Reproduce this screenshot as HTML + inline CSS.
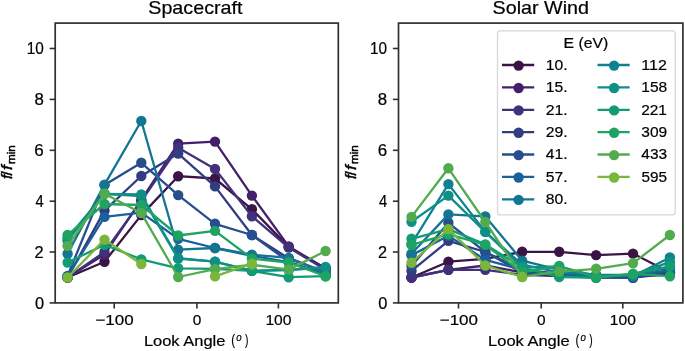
<!DOCTYPE html>
<html><head><meta charset="utf-8"><style>html,body{margin:0;padding:0;background:#fff;width:685px;height:351px;overflow:hidden}svg{display:block;will-change:transform}</style></head>
<body>
<svg width="685" height="351" viewBox="0 0 685 351">
<style>
.sp{fill:none;stroke:#303030;stroke-width:1.7}
.tk{stroke:#303030;stroke-width:1.6}
text{font-family:"Liberation Sans",sans-serif;fill:#000;stroke:#000;stroke-width:0.2px}
</style>
<rect width="685" height="351" fill="#fff"/>
<g><polyline points="67.6,277.5 104.5,261.7 141.3,215.1 178.2,176.2 215.0,178.5 251.9,209.3 288.7,246.9 325.6,268.6" fill="none" stroke="#3b1446" stroke-width="2.3" stroke-linejoin="round"/>
<ellipse cx="67.6" cy="277.5" rx="5.2" ry="5.2" fill="#3b1446"/>
<ellipse cx="104.5" cy="261.7" rx="5.2" ry="5.2" fill="#3b1446"/>
<ellipse cx="141.3" cy="215.1" rx="5.2" ry="5.2" fill="#3b1446"/>
<ellipse cx="178.2" cy="176.2" rx="5.2" ry="5.2" fill="#3b1446"/>
<ellipse cx="215.0" cy="178.5" rx="5.2" ry="5.2" fill="#3b1446"/>
<ellipse cx="251.9" cy="209.3" rx="5.2" ry="5.2" fill="#3b1446"/>
<ellipse cx="288.7" cy="246.9" rx="5.2" ry="5.2" fill="#3b1446"/>
<ellipse cx="325.6" cy="268.6" rx="5.2" ry="5.2" fill="#3b1446"/>
<polyline points="67.6,277.5 104.5,254.6 141.3,199.9 178.2,143.7 215.0,141.6 251.9,195.6 288.7,246.4 325.6,268.6" fill="none" stroke="#45206a" stroke-width="2.3" stroke-linejoin="round"/>
<ellipse cx="67.6" cy="277.5" rx="5.2" ry="5.2" fill="#45206a"/>
<ellipse cx="104.5" cy="254.6" rx="5.2" ry="5.2" fill="#45206a"/>
<ellipse cx="141.3" cy="199.9" rx="5.2" ry="5.2" fill="#45206a"/>
<ellipse cx="178.2" cy="143.7" rx="5.2" ry="5.2" fill="#45206a"/>
<ellipse cx="215.0" cy="141.6" rx="5.2" ry="5.2" fill="#45206a"/>
<ellipse cx="251.9" cy="195.6" rx="5.2" ry="5.2" fill="#45206a"/>
<ellipse cx="288.7" cy="246.4" rx="5.2" ry="5.2" fill="#45206a"/>
<ellipse cx="325.6" cy="268.6" rx="5.2" ry="5.2" fill="#45206a"/>
<polyline points="67.6,277.5 104.5,252.0 141.3,201.2 178.2,147.7 215.0,168.9 251.9,216.2 288.7,247.5 325.6,269.8" fill="none" stroke="#41307a" stroke-width="2.3" stroke-linejoin="round"/>
<ellipse cx="67.6" cy="277.5" rx="5.2" ry="5.2" fill="#41307a"/>
<ellipse cx="104.5" cy="252.0" rx="5.2" ry="5.2" fill="#41307a"/>
<ellipse cx="141.3" cy="201.2" rx="5.2" ry="5.2" fill="#41307a"/>
<ellipse cx="178.2" cy="147.7" rx="5.2" ry="5.2" fill="#41307a"/>
<ellipse cx="215.0" cy="168.9" rx="5.2" ry="5.2" fill="#41307a"/>
<ellipse cx="251.9" cy="216.2" rx="5.2" ry="5.2" fill="#41307a"/>
<ellipse cx="288.7" cy="247.5" rx="5.2" ry="5.2" fill="#41307a"/>
<ellipse cx="325.6" cy="269.8" rx="5.2" ry="5.2" fill="#41307a"/>
<polyline points="67.6,277.5 104.5,210.6 141.3,176.0 178.2,153.6 215.0,186.4 251.9,235.0 288.7,258.4 325.6,272.4" fill="none" stroke="#323c80" stroke-width="2.3" stroke-linejoin="round"/>
<ellipse cx="67.6" cy="277.5" rx="5.2" ry="5.2" fill="#323c80"/>
<ellipse cx="104.5" cy="210.6" rx="5.2" ry="5.2" fill="#323c80"/>
<ellipse cx="141.3" cy="176.0" rx="5.2" ry="5.2" fill="#323c80"/>
<ellipse cx="178.2" cy="153.6" rx="5.2" ry="5.2" fill="#323c80"/>
<ellipse cx="215.0" cy="186.4" rx="5.2" ry="5.2" fill="#323c80"/>
<ellipse cx="251.9" cy="235.0" rx="5.2" ry="5.2" fill="#323c80"/>
<ellipse cx="288.7" cy="258.4" rx="5.2" ry="5.2" fill="#323c80"/>
<ellipse cx="325.6" cy="272.4" rx="5.2" ry="5.2" fill="#323c80"/>
<polyline points="67.6,275.9 104.5,185.1 141.3,162.8 178.2,195.1 215.0,223.8 251.9,235.0 288.7,261.7 325.6,274.9" fill="none" stroke="#274e8d" stroke-width="2.3" stroke-linejoin="round"/>
<ellipse cx="67.6" cy="275.9" rx="5.2" ry="5.2" fill="#274e8d"/>
<ellipse cx="104.5" cy="185.1" rx="5.2" ry="5.2" fill="#274e8d"/>
<ellipse cx="141.3" cy="162.8" rx="5.2" ry="5.2" fill="#274e8d"/>
<ellipse cx="178.2" cy="195.1" rx="5.2" ry="5.2" fill="#274e8d"/>
<ellipse cx="215.0" cy="223.8" rx="5.2" ry="5.2" fill="#274e8d"/>
<ellipse cx="251.9" cy="235.0" rx="5.2" ry="5.2" fill="#274e8d"/>
<ellipse cx="288.7" cy="261.7" rx="5.2" ry="5.2" fill="#274e8d"/>
<ellipse cx="325.6" cy="274.9" rx="5.2" ry="5.2" fill="#274e8d"/>
<polyline points="67.6,276.4 104.5,216.9 141.3,212.6 178.2,238.8 215.0,248.0 251.9,255.8 288.7,262.2 325.6,274.9" fill="none" stroke="#18619a" stroke-width="2.3" stroke-linejoin="round"/>
<ellipse cx="67.6" cy="276.4" rx="5.2" ry="5.2" fill="#18619a"/>
<ellipse cx="104.5" cy="216.9" rx="5.2" ry="5.2" fill="#18619a"/>
<ellipse cx="141.3" cy="212.6" rx="5.2" ry="5.2" fill="#18619a"/>
<ellipse cx="178.2" cy="238.8" rx="5.2" ry="5.2" fill="#18619a"/>
<ellipse cx="215.0" cy="248.0" rx="5.2" ry="5.2" fill="#18619a"/>
<ellipse cx="251.9" cy="255.8" rx="5.2" ry="5.2" fill="#18619a"/>
<ellipse cx="288.7" cy="262.2" rx="5.2" ry="5.2" fill="#18619a"/>
<ellipse cx="325.6" cy="274.9" rx="5.2" ry="5.2" fill="#18619a"/>
<polyline points="67.6,253.8 104.5,184.6 141.3,121.0 178.2,249.7 215.0,248.0 251.9,254.6 288.7,257.9 325.6,272.4" fill="none" stroke="#147592" stroke-width="2.3" stroke-linejoin="round"/>
<ellipse cx="67.6" cy="253.8" rx="5.2" ry="5.2" fill="#147592"/>
<ellipse cx="104.5" cy="184.6" rx="5.2" ry="5.2" fill="#147592"/>
<ellipse cx="141.3" cy="121.0" rx="5.2" ry="5.2" fill="#147592"/>
<ellipse cx="178.2" cy="249.7" rx="5.2" ry="5.2" fill="#147592"/>
<ellipse cx="215.0" cy="248.0" rx="5.2" ry="5.2" fill="#147592"/>
<ellipse cx="251.9" cy="254.6" rx="5.2" ry="5.2" fill="#147592"/>
<ellipse cx="288.7" cy="257.9" rx="5.2" ry="5.2" fill="#147592"/>
<ellipse cx="325.6" cy="272.4" rx="5.2" ry="5.2" fill="#147592"/>
<polyline points="67.6,240.6 104.5,193.8 141.3,196.1 178.2,258.6 215.0,261.7 251.9,270.9 288.7,269.8 325.6,267.8" fill="none" stroke="#0e8290" stroke-width="2.3" stroke-linejoin="round"/>
<ellipse cx="67.6" cy="240.6" rx="5.2" ry="5.2" fill="#0e8290"/>
<ellipse cx="104.5" cy="193.8" rx="5.2" ry="5.2" fill="#0e8290"/>
<ellipse cx="141.3" cy="196.1" rx="5.2" ry="5.2" fill="#0e8290"/>
<ellipse cx="178.2" cy="258.6" rx="5.2" ry="5.2" fill="#0e8290"/>
<ellipse cx="215.0" cy="261.7" rx="5.2" ry="5.2" fill="#0e8290"/>
<ellipse cx="251.9" cy="270.9" rx="5.2" ry="5.2" fill="#0e8290"/>
<ellipse cx="288.7" cy="269.8" rx="5.2" ry="5.2" fill="#0e8290"/>
<ellipse cx="325.6" cy="267.8" rx="5.2" ry="5.2" fill="#0e8290"/>
<polyline points="67.6,238.0 104.5,193.8 141.3,194.5 178.2,258.1 215.0,261.7 251.9,270.9 288.7,269.8 325.6,267.0" fill="none" stroke="#0f8f86" stroke-width="2.3" stroke-linejoin="round"/>
<ellipse cx="67.6" cy="238.0" rx="5.2" ry="5.2" fill="#0f8f86"/>
<ellipse cx="104.5" cy="193.8" rx="5.2" ry="5.2" fill="#0f8f86"/>
<ellipse cx="141.3" cy="194.5" rx="5.2" ry="5.2" fill="#0f8f86"/>
<ellipse cx="178.2" cy="258.1" rx="5.2" ry="5.2" fill="#0f8f86"/>
<ellipse cx="215.0" cy="261.7" rx="5.2" ry="5.2" fill="#0f8f86"/>
<ellipse cx="251.9" cy="270.9" rx="5.2" ry="5.2" fill="#0f8f86"/>
<ellipse cx="288.7" cy="269.8" rx="5.2" ry="5.2" fill="#0f8f86"/>
<ellipse cx="325.6" cy="267.0" rx="5.2" ry="5.2" fill="#0f8f86"/>
<polyline points="67.6,262.5 104.5,244.7 141.3,259.4 178.2,268.3 215.0,268.8 251.9,270.9 288.7,277.2 325.6,276.2" fill="none" stroke="#139b76" stroke-width="2.3" stroke-linejoin="round"/>
<ellipse cx="67.6" cy="262.5" rx="5.2" ry="5.2" fill="#139b76"/>
<ellipse cx="104.5" cy="244.7" rx="5.2" ry="5.2" fill="#139b76"/>
<ellipse cx="141.3" cy="259.4" rx="5.2" ry="5.2" fill="#139b76"/>
<ellipse cx="178.2" cy="268.3" rx="5.2" ry="5.2" fill="#139b76"/>
<ellipse cx="215.0" cy="268.8" rx="5.2" ry="5.2" fill="#139b76"/>
<ellipse cx="251.9" cy="270.9" rx="5.2" ry="5.2" fill="#139b76"/>
<ellipse cx="288.7" cy="277.2" rx="5.2" ry="5.2" fill="#139b76"/>
<ellipse cx="325.6" cy="276.2" rx="5.2" ry="5.2" fill="#139b76"/>
<polyline points="67.6,235.0 104.5,204.0 141.3,205.0 178.2,235.5 215.0,230.9 251.9,258.6 288.7,262.5 325.6,276.2" fill="none" stroke="#1fa363" stroke-width="2.3" stroke-linejoin="round"/>
<ellipse cx="67.6" cy="235.0" rx="5.2" ry="5.2" fill="#1fa363"/>
<ellipse cx="104.5" cy="204.0" rx="5.2" ry="5.2" fill="#1fa363"/>
<ellipse cx="141.3" cy="205.0" rx="5.2" ry="5.2" fill="#1fa363"/>
<ellipse cx="178.2" cy="235.5" rx="5.2" ry="5.2" fill="#1fa363"/>
<ellipse cx="215.0" cy="230.9" rx="5.2" ry="5.2" fill="#1fa363"/>
<ellipse cx="251.9" cy="258.6" rx="5.2" ry="5.2" fill="#1fa363"/>
<ellipse cx="288.7" cy="262.5" rx="5.2" ry="5.2" fill="#1fa363"/>
<ellipse cx="325.6" cy="276.2" rx="5.2" ry="5.2" fill="#1fa363"/>
<polyline points="67.6,245.9 104.5,193.8 141.3,213.1 178.2,277.0 215.0,269.1 251.9,264.7 288.7,269.6 325.6,251.0" fill="none" stroke="#52ab4f" stroke-width="2.3" stroke-linejoin="round"/>
<ellipse cx="67.6" cy="245.9" rx="5.2" ry="5.2" fill="#52ab4f"/>
<ellipse cx="104.5" cy="193.8" rx="5.2" ry="5.2" fill="#52ab4f"/>
<ellipse cx="141.3" cy="213.1" rx="5.2" ry="5.2" fill="#52ab4f"/>
<ellipse cx="178.2" cy="277.0" rx="5.2" ry="5.2" fill="#52ab4f"/>
<ellipse cx="215.0" cy="269.1" rx="5.2" ry="5.2" fill="#52ab4f"/>
<ellipse cx="251.9" cy="264.7" rx="5.2" ry="5.2" fill="#52ab4f"/>
<ellipse cx="288.7" cy="269.6" rx="5.2" ry="5.2" fill="#52ab4f"/>
<ellipse cx="325.6" cy="251.0" rx="5.2" ry="5.2" fill="#52ab4f"/>
<polyline points="67.6,277.5 104.5,239.6 141.3,264.0" fill="none" stroke="#7ab63c" stroke-width="2.3" stroke-linejoin="round"/>
<polyline points="215.0,276.4 251.9,263.7" fill="none" stroke="#7ab63c" stroke-width="2.3" stroke-linejoin="round"/>
<ellipse cx="67.6" cy="277.5" rx="5.2" ry="5.2" fill="#7ab63c"/>
<ellipse cx="104.5" cy="239.6" rx="5.2" ry="5.2" fill="#7ab63c"/>
<ellipse cx="141.3" cy="264.0" rx="5.2" ry="5.2" fill="#7ab63c"/>
<ellipse cx="215.0" cy="276.4" rx="5.2" ry="5.2" fill="#7ab63c"/>
<ellipse cx="251.9" cy="263.7" rx="5.2" ry="5.2" fill="#7ab63c"/></g>
<g><polyline points="411.5,277.5 448.4,261.7 485.3,258.9 522.2,251.8 559.2,251.8 596.1,255.1 633.0,253.6 669.9,272.4" fill="none" stroke="#3b1446" stroke-width="2.3" stroke-linejoin="round"/>
<ellipse cx="411.5" cy="277.5" rx="5.2" ry="5.2" fill="#3b1446"/>
<ellipse cx="448.4" cy="261.7" rx="5.2" ry="5.2" fill="#3b1446"/>
<ellipse cx="485.3" cy="258.9" rx="5.2" ry="5.2" fill="#3b1446"/>
<ellipse cx="522.2" cy="251.8" rx="5.2" ry="5.2" fill="#3b1446"/>
<ellipse cx="559.2" cy="251.8" rx="5.2" ry="5.2" fill="#3b1446"/>
<ellipse cx="596.1" cy="255.1" rx="5.2" ry="5.2" fill="#3b1446"/>
<ellipse cx="633.0" cy="253.6" rx="5.2" ry="5.2" fill="#3b1446"/>
<ellipse cx="669.9" cy="272.4" rx="5.2" ry="5.2" fill="#3b1446"/>
<polyline points="411.5,277.5 448.4,269.8 485.3,265.5 522.2,272.4 559.2,274.9 596.1,276.2 633.0,276.2 669.9,274.9" fill="none" stroke="#45206a" stroke-width="2.3" stroke-linejoin="round"/>
<ellipse cx="411.5" cy="277.5" rx="5.2" ry="5.2" fill="#45206a"/>
<ellipse cx="448.4" cy="269.8" rx="5.2" ry="5.2" fill="#45206a"/>
<ellipse cx="485.3" cy="265.5" rx="5.2" ry="5.2" fill="#45206a"/>
<ellipse cx="522.2" cy="272.4" rx="5.2" ry="5.2" fill="#45206a"/>
<ellipse cx="559.2" cy="274.9" rx="5.2" ry="5.2" fill="#45206a"/>
<ellipse cx="596.1" cy="276.2" rx="5.2" ry="5.2" fill="#45206a"/>
<ellipse cx="633.0" cy="276.2" rx="5.2" ry="5.2" fill="#45206a"/>
<ellipse cx="669.9" cy="274.9" rx="5.2" ry="5.2" fill="#45206a"/>
<polyline points="411.5,277.5 448.4,269.8 485.3,269.8 522.2,274.9 559.2,276.2 596.1,277.5 633.0,277.5 669.9,273.6" fill="none" stroke="#41307a" stroke-width="2.3" stroke-linejoin="round"/>
<ellipse cx="411.5" cy="277.5" rx="5.2" ry="5.2" fill="#41307a"/>
<ellipse cx="448.4" cy="269.8" rx="5.2" ry="5.2" fill="#41307a"/>
<ellipse cx="485.3" cy="269.8" rx="5.2" ry="5.2" fill="#41307a"/>
<ellipse cx="522.2" cy="274.9" rx="5.2" ry="5.2" fill="#41307a"/>
<ellipse cx="559.2" cy="276.2" rx="5.2" ry="5.2" fill="#41307a"/>
<ellipse cx="596.1" cy="277.5" rx="5.2" ry="5.2" fill="#41307a"/>
<ellipse cx="633.0" cy="277.5" rx="5.2" ry="5.2" fill="#41307a"/>
<ellipse cx="669.9" cy="273.6" rx="5.2" ry="5.2" fill="#41307a"/>
<polyline points="411.5,270.9 448.4,240.8 485.3,252.0 522.2,269.8 559.2,273.6 596.1,276.2 633.0,277.5 669.9,272.4" fill="none" stroke="#323c80" stroke-width="2.3" stroke-linejoin="round"/>
<ellipse cx="411.5" cy="270.9" rx="5.2" ry="5.2" fill="#323c80"/>
<ellipse cx="448.4" cy="240.8" rx="5.2" ry="5.2" fill="#323c80"/>
<ellipse cx="485.3" cy="252.0" rx="5.2" ry="5.2" fill="#323c80"/>
<ellipse cx="522.2" cy="269.8" rx="5.2" ry="5.2" fill="#323c80"/>
<ellipse cx="559.2" cy="273.6" rx="5.2" ry="5.2" fill="#323c80"/>
<ellipse cx="596.1" cy="276.2" rx="5.2" ry="5.2" fill="#323c80"/>
<ellipse cx="633.0" cy="277.5" rx="5.2" ry="5.2" fill="#323c80"/>
<ellipse cx="669.9" cy="272.4" rx="5.2" ry="5.2" fill="#323c80"/>
<polyline points="411.5,266.0 448.4,222.8 485.3,252.0 522.2,272.4 559.2,274.9 596.1,277.5 633.0,277.7 669.9,271.1" fill="none" stroke="#274e8d" stroke-width="2.3" stroke-linejoin="round"/>
<ellipse cx="411.5" cy="266.0" rx="5.2" ry="5.2" fill="#274e8d"/>
<ellipse cx="448.4" cy="222.8" rx="5.2" ry="5.2" fill="#274e8d"/>
<ellipse cx="485.3" cy="252.0" rx="5.2" ry="5.2" fill="#274e8d"/>
<ellipse cx="522.2" cy="272.4" rx="5.2" ry="5.2" fill="#274e8d"/>
<ellipse cx="559.2" cy="274.9" rx="5.2" ry="5.2" fill="#274e8d"/>
<ellipse cx="596.1" cy="277.5" rx="5.2" ry="5.2" fill="#274e8d"/>
<ellipse cx="633.0" cy="277.7" rx="5.2" ry="5.2" fill="#274e8d"/>
<ellipse cx="669.9" cy="271.1" rx="5.2" ry="5.2" fill="#274e8d"/>
<polyline points="411.5,255.3 448.4,235.8 485.3,259.9 522.2,269.8 559.2,274.9 596.1,276.2 633.0,276.2 669.9,269.8" fill="none" stroke="#18619a" stroke-width="2.3" stroke-linejoin="round"/>
<ellipse cx="411.5" cy="255.3" rx="5.2" ry="5.2" fill="#18619a"/>
<ellipse cx="448.4" cy="235.8" rx="5.2" ry="5.2" fill="#18619a"/>
<ellipse cx="485.3" cy="259.9" rx="5.2" ry="5.2" fill="#18619a"/>
<ellipse cx="522.2" cy="269.8" rx="5.2" ry="5.2" fill="#18619a"/>
<ellipse cx="559.2" cy="274.9" rx="5.2" ry="5.2" fill="#18619a"/>
<ellipse cx="596.1" cy="276.2" rx="5.2" ry="5.2" fill="#18619a"/>
<ellipse cx="633.0" cy="276.2" rx="5.2" ry="5.2" fill="#18619a"/>
<ellipse cx="669.9" cy="269.8" rx="5.2" ry="5.2" fill="#18619a"/>
<polyline points="411.5,253.8 448.4,214.4 485.3,216.4 522.2,260.7 559.2,269.8 596.1,274.9 633.0,274.9 669.9,267.3" fill="none" stroke="#147592" stroke-width="2.3" stroke-linejoin="round"/>
<ellipse cx="411.5" cy="253.8" rx="5.2" ry="5.2" fill="#147592"/>
<ellipse cx="448.4" cy="214.4" rx="5.2" ry="5.2" fill="#147592"/>
<ellipse cx="485.3" cy="216.4" rx="5.2" ry="5.2" fill="#147592"/>
<ellipse cx="522.2" cy="260.7" rx="5.2" ry="5.2" fill="#147592"/>
<ellipse cx="559.2" cy="269.8" rx="5.2" ry="5.2" fill="#147592"/>
<ellipse cx="596.1" cy="274.9" rx="5.2" ry="5.2" fill="#147592"/>
<ellipse cx="633.0" cy="274.9" rx="5.2" ry="5.2" fill="#147592"/>
<ellipse cx="669.9" cy="267.3" rx="5.2" ry="5.2" fill="#147592"/>
<polyline points="411.5,243.9 448.4,184.1 485.3,231.9 522.2,264.7 559.2,272.4 596.1,274.9 633.0,276.2 669.9,257.4" fill="none" stroke="#0e8290" stroke-width="2.3" stroke-linejoin="round"/>
<ellipse cx="411.5" cy="243.9" rx="5.2" ry="5.2" fill="#0e8290"/>
<ellipse cx="448.4" cy="184.1" rx="5.2" ry="5.2" fill="#0e8290"/>
<ellipse cx="485.3" cy="231.9" rx="5.2" ry="5.2" fill="#0e8290"/>
<ellipse cx="522.2" cy="264.7" rx="5.2" ry="5.2" fill="#0e8290"/>
<ellipse cx="559.2" cy="272.4" rx="5.2" ry="5.2" fill="#0e8290"/>
<ellipse cx="596.1" cy="274.9" rx="5.2" ry="5.2" fill="#0e8290"/>
<ellipse cx="633.0" cy="276.2" rx="5.2" ry="5.2" fill="#0e8290"/>
<ellipse cx="669.9" cy="257.4" rx="5.2" ry="5.2" fill="#0e8290"/>
<polyline points="411.5,221.8 448.4,195.6 485.3,231.9 522.2,267.5 559.2,266.5 596.1,276.2 633.0,274.9 669.9,262.2" fill="none" stroke="#0f8f86" stroke-width="2.3" stroke-linejoin="round"/>
<ellipse cx="411.5" cy="221.8" rx="5.2" ry="5.2" fill="#0f8f86"/>
<ellipse cx="448.4" cy="195.6" rx="5.2" ry="5.2" fill="#0f8f86"/>
<ellipse cx="485.3" cy="231.9" rx="5.2" ry="5.2" fill="#0f8f86"/>
<ellipse cx="522.2" cy="267.5" rx="5.2" ry="5.2" fill="#0f8f86"/>
<ellipse cx="559.2" cy="266.5" rx="5.2" ry="5.2" fill="#0f8f86"/>
<ellipse cx="596.1" cy="276.2" rx="5.2" ry="5.2" fill="#0f8f86"/>
<ellipse cx="633.0" cy="274.9" rx="5.2" ry="5.2" fill="#0f8f86"/>
<ellipse cx="669.9" cy="262.2" rx="5.2" ry="5.2" fill="#0f8f86"/>
<polyline points="411.5,238.8 448.4,229.1 485.3,244.4 522.2,267.5 559.2,277.0 596.1,277.7 633.0,273.9 669.9,266.3" fill="none" stroke="#139b76" stroke-width="2.3" stroke-linejoin="round"/>
<ellipse cx="411.5" cy="238.8" rx="5.2" ry="5.2" fill="#139b76"/>
<ellipse cx="448.4" cy="229.1" rx="5.2" ry="5.2" fill="#139b76"/>
<ellipse cx="485.3" cy="244.4" rx="5.2" ry="5.2" fill="#139b76"/>
<ellipse cx="522.2" cy="267.5" rx="5.2" ry="5.2" fill="#139b76"/>
<ellipse cx="559.2" cy="277.0" rx="5.2" ry="5.2" fill="#139b76"/>
<ellipse cx="596.1" cy="277.7" rx="5.2" ry="5.2" fill="#139b76"/>
<ellipse cx="633.0" cy="273.9" rx="5.2" ry="5.2" fill="#139b76"/>
<ellipse cx="669.9" cy="266.3" rx="5.2" ry="5.2" fill="#139b76"/>
<polyline points="411.5,244.9 448.4,234.2 485.3,244.9 522.2,272.4 559.2,266.0 596.1,277.5 633.0,273.9 669.9,276.2" fill="none" stroke="#1fa363" stroke-width="2.3" stroke-linejoin="round"/>
<ellipse cx="411.5" cy="244.9" rx="5.2" ry="5.2" fill="#1fa363"/>
<ellipse cx="448.4" cy="234.2" rx="5.2" ry="5.2" fill="#1fa363"/>
<ellipse cx="485.3" cy="244.9" rx="5.2" ry="5.2" fill="#1fa363"/>
<ellipse cx="522.2" cy="272.4" rx="5.2" ry="5.2" fill="#1fa363"/>
<ellipse cx="559.2" cy="266.0" rx="5.2" ry="5.2" fill="#1fa363"/>
<ellipse cx="596.1" cy="277.5" rx="5.2" ry="5.2" fill="#1fa363"/>
<ellipse cx="633.0" cy="273.9" rx="5.2" ry="5.2" fill="#1fa363"/>
<ellipse cx="669.9" cy="276.2" rx="5.2" ry="5.2" fill="#1fa363"/>
<polyline points="411.5,216.9 448.4,168.3 485.3,222.0 522.2,276.7 559.2,271.6 596.1,268.8 633.0,263.2 669.9,235.0" fill="none" stroke="#52ab4f" stroke-width="2.3" stroke-linejoin="round"/>
<ellipse cx="411.5" cy="216.9" rx="5.2" ry="5.2" fill="#52ab4f"/>
<ellipse cx="448.4" cy="168.3" rx="5.2" ry="5.2" fill="#52ab4f"/>
<ellipse cx="485.3" cy="222.0" rx="5.2" ry="5.2" fill="#52ab4f"/>
<ellipse cx="522.2" cy="276.7" rx="5.2" ry="5.2" fill="#52ab4f"/>
<ellipse cx="559.2" cy="271.6" rx="5.2" ry="5.2" fill="#52ab4f"/>
<ellipse cx="596.1" cy="268.8" rx="5.2" ry="5.2" fill="#52ab4f"/>
<ellipse cx="633.0" cy="263.2" rx="5.2" ry="5.2" fill="#52ab4f"/>
<ellipse cx="669.9" cy="235.0" rx="5.2" ry="5.2" fill="#52ab4f"/>
<polyline points="411.5,262.7 448.4,229.1 485.3,265.5 522.2,277.0" fill="none" stroke="#7ab63c" stroke-width="2.3" stroke-linejoin="round"/>
<ellipse cx="411.5" cy="262.7" rx="5.2" ry="5.2" fill="#7ab63c"/>
<ellipse cx="448.4" cy="229.1" rx="5.2" ry="5.2" fill="#7ab63c"/>
<ellipse cx="485.3" cy="265.5" rx="5.2" ry="5.2" fill="#7ab63c"/>
<ellipse cx="522.2" cy="277.0" rx="5.2" ry="5.2" fill="#7ab63c"/></g>
<rect x="55.2" y="23.1" width="283.1" height="279.8" class="sp"/>
<line x1="49.6" y1="302.9" x2="55.2" y2="302.9" class="tk"/>
<line x1="49.6" y1="252.0" x2="55.2" y2="252.0" class="tk"/>
<line x1="49.6" y1="201.2" x2="55.2" y2="201.2" class="tk"/>
<line x1="49.6" y1="150.3" x2="55.2" y2="150.3" class="tk"/>
<line x1="49.6" y1="99.4" x2="55.2" y2="99.4" class="tk"/>
<line x1="49.6" y1="48.5" x2="55.2" y2="48.5" class="tk"/>
<line x1="114.2" y1="302.9" x2="114.2" y2="308.5" class="tk"/>
<line x1="196.9" y1="302.9" x2="196.9" y2="308.5" class="tk"/>
<line x1="278.4" y1="302.9" x2="278.4" y2="308.5" class="tk"/>
<rect x="398.5" y="23.1" width="284.4" height="279.8" class="sp"/>
<line x1="392.9" y1="302.9" x2="398.5" y2="302.9" class="tk"/>
<line x1="392.9" y1="252.0" x2="398.5" y2="252.0" class="tk"/>
<line x1="392.9" y1="201.2" x2="398.5" y2="201.2" class="tk"/>
<line x1="392.9" y1="150.3" x2="398.5" y2="150.3" class="tk"/>
<line x1="392.9" y1="99.4" x2="398.5" y2="99.4" class="tk"/>
<line x1="392.9" y1="48.5" x2="398.5" y2="48.5" class="tk"/>
<line x1="458.5" y1="302.9" x2="458.5" y2="308.5" class="tk"/>
<line x1="541.2" y1="302.9" x2="541.2" y2="308.5" class="tk"/>
<line x1="622.8" y1="302.9" x2="622.8" y2="308.5" class="tk"/>
<rect x="497.5" y="30.9" width="177.7" height="184.0" rx="3" ry="3" fill="#fff" fill-opacity="0.8" stroke="#d8d8d8" stroke-width="1.3"/>
<line x1="502" y1="65.0" x2="534.2" y2="65.0" stroke="#3b1446" stroke-width="2.3"/>
<ellipse cx="518.6" cy="65.6" rx="5.2" ry="5.2" fill="#3b1446"/>
<line x1="502" y1="87.4" x2="534.2" y2="87.4" stroke="#45206a" stroke-width="2.3"/>
<ellipse cx="518.6" cy="88.0" rx="5.2" ry="5.2" fill="#45206a"/>
<line x1="502" y1="109.8" x2="534.2" y2="109.8" stroke="#41307a" stroke-width="2.3"/>
<ellipse cx="518.6" cy="110.4" rx="5.2" ry="5.2" fill="#41307a"/>
<line x1="502" y1="132.2" x2="534.2" y2="132.2" stroke="#323c80" stroke-width="2.3"/>
<ellipse cx="518.6" cy="132.8" rx="5.2" ry="5.2" fill="#323c80"/>
<line x1="502" y1="154.5" x2="534.2" y2="154.5" stroke="#274e8d" stroke-width="2.3"/>
<ellipse cx="518.6" cy="155.1" rx="5.2" ry="5.2" fill="#274e8d"/>
<line x1="502" y1="176.9" x2="534.2" y2="176.9" stroke="#18619a" stroke-width="2.3"/>
<ellipse cx="518.6" cy="177.5" rx="5.2" ry="5.2" fill="#18619a"/>
<line x1="502" y1="199.3" x2="534.2" y2="199.3" stroke="#147592" stroke-width="2.3"/>
<ellipse cx="518.6" cy="199.9" rx="5.2" ry="5.2" fill="#147592"/>
<line x1="597.5" y1="65.0" x2="629.7" y2="65.0" stroke="#0e8290" stroke-width="2.3"/>
<ellipse cx="614.1" cy="65.6" rx="5.2" ry="5.2" fill="#0e8290"/>
<line x1="597.5" y1="87.4" x2="629.7" y2="87.4" stroke="#0f8f86" stroke-width="2.3"/>
<ellipse cx="614.1" cy="88.0" rx="5.2" ry="5.2" fill="#0f8f86"/>
<line x1="597.5" y1="109.8" x2="629.7" y2="109.8" stroke="#139b76" stroke-width="2.3"/>
<ellipse cx="614.1" cy="110.4" rx="5.2" ry="5.2" fill="#139b76"/>
<line x1="597.5" y1="132.2" x2="629.7" y2="132.2" stroke="#1fa363" stroke-width="2.3"/>
<ellipse cx="614.1" cy="132.8" rx="5.2" ry="5.2" fill="#1fa363"/>
<line x1="597.5" y1="154.5" x2="629.7" y2="154.5" stroke="#52ab4f" stroke-width="2.3"/>
<ellipse cx="614.1" cy="155.1" rx="5.2" ry="5.2" fill="#52ab4f"/>
<line x1="597.5" y1="176.9" x2="629.7" y2="176.9" stroke="#7ab63c" stroke-width="2.3"/>
<ellipse cx="614.1" cy="177.5" rx="5.2" ry="5.2" fill="#7ab63c"/>
<text x="148.28" y="13.50" font-size="17.8" textLength="94.21" lengthAdjust="spacingAndGlyphs">Spacecraft</text>
<text x="492.58" y="13.50" font-size="17.8" textLength="96.48" lengthAdjust="spacingAndGlyphs">Solar Wind</text>
<text x="95.45" y="325.10" font-size="15.0" textLength="38.27" lengthAdjust="spacingAndGlyphs">−100</text>
<text x="192.71" y="325.10" font-size="15.0" textLength="8.58" lengthAdjust="spacingAndGlyphs">0</text>
<text x="265.44" y="325.10" font-size="15.0" textLength="26.04" lengthAdjust="spacingAndGlyphs">100</text>
<text x="439.75" y="325.10" font-size="15.0" textLength="38.27" lengthAdjust="spacingAndGlyphs">−100</text>
<text x="537.01" y="325.10" font-size="15.0" textLength="8.58" lengthAdjust="spacingAndGlyphs">0</text>
<text x="609.84" y="325.10" font-size="15.0" textLength="26.04" lengthAdjust="spacingAndGlyphs">100</text>
<text x="34.95" y="308.60" font-size="15.6" textLength="9.12" lengthAdjust="spacingAndGlyphs">0</text>
<text x="34.63" y="257.73" font-size="15.6" textLength="9.06" lengthAdjust="spacingAndGlyphs">2</text>
<text x="35.59" y="206.86" font-size="15.6" textLength="8.21" lengthAdjust="spacingAndGlyphs">4</text>
<text x="34.34" y="155.99" font-size="15.6" textLength="9.46" lengthAdjust="spacingAndGlyphs">6</text>
<text x="34.43" y="105.12" font-size="15.6" textLength="9.36" lengthAdjust="spacingAndGlyphs">8</text>
<text x="26.69" y="54.25" font-size="15.6" textLength="17.07" lengthAdjust="spacingAndGlyphs">10</text>
<text x="378.35" y="308.60" font-size="15.6" textLength="9.12" lengthAdjust="spacingAndGlyphs">0</text>
<text x="378.03" y="257.73" font-size="15.6" textLength="9.06" lengthAdjust="spacingAndGlyphs">2</text>
<text x="378.99" y="206.86" font-size="15.6" textLength="8.21" lengthAdjust="spacingAndGlyphs">4</text>
<text x="377.74" y="155.99" font-size="15.6" textLength="9.46" lengthAdjust="spacingAndGlyphs">6</text>
<text x="377.83" y="105.12" font-size="15.6" textLength="9.36" lengthAdjust="spacingAndGlyphs">8</text>
<text x="370.09" y="54.25" font-size="15.6" textLength="17.07" lengthAdjust="spacingAndGlyphs">10</text>
<text x="563.52" y="48.00" font-size="14.3" textLength="44.64" lengthAdjust="spacingAndGlyphs">E (eV)</text>
<text x="545.82" y="69.95" font-size="15.2" textLength="21.79" lengthAdjust="spacingAndGlyphs">10.</text>
<text x="545.82" y="92.32" font-size="15.2" textLength="21.79" lengthAdjust="spacingAndGlyphs">15.</text>
<text x="545.65" y="114.69" font-size="15.2" textLength="21.97" lengthAdjust="spacingAndGlyphs">21.</text>
<text x="545.65" y="137.06" font-size="15.2" textLength="21.97" lengthAdjust="spacingAndGlyphs">29.</text>
<text x="545.84" y="159.43" font-size="15.2" textLength="21.77" lengthAdjust="spacingAndGlyphs">41.</text>
<text x="545.89" y="181.80" font-size="15.2" textLength="21.72" lengthAdjust="spacingAndGlyphs">57.</text>
<text x="545.75" y="204.17" font-size="15.2" textLength="21.86" lengthAdjust="spacingAndGlyphs">80.</text>
<text x="641.29" y="69.95" font-size="15.2" textLength="25.61" lengthAdjust="spacingAndGlyphs">112</text>
<text x="641.33" y="92.32" font-size="15.2" textLength="25.94" lengthAdjust="spacingAndGlyphs">158</text>
<text x="641.17" y="114.69" font-size="15.2" textLength="25.77" lengthAdjust="spacingAndGlyphs">221</text>
<text x="641.38" y="137.06" font-size="15.2" textLength="25.87" lengthAdjust="spacingAndGlyphs">309</text>
<text x="641.34" y="159.43" font-size="15.2" textLength="25.77" lengthAdjust="spacingAndGlyphs">433</text>
<text x="641.40" y="181.80" font-size="15.2" textLength="25.60" lengthAdjust="spacingAndGlyphs">595</text>
<text x="143.90" y="346.00" font-size="14.8" textLength="81.52" lengthAdjust="spacingAndGlyphs">Look Angle</text>
<text x="231.35" y="345.00" font-size="14.6" textLength="3.82" lengthAdjust="spacingAndGlyphs">(</text>
<text x="236.21" y="340.70" font-size="11.2" textLength="5.44" lengthAdjust="spacingAndGlyphs" style="font-style:italic">o</text>
<text x="245.08" y="345.00" font-size="14.6" textLength="3.43" lengthAdjust="spacingAndGlyphs">)</text>
<text x="488.10" y="346.00" font-size="14.8" textLength="81.52" lengthAdjust="spacingAndGlyphs">Look Angle</text>
<text x="575.55" y="345.00" font-size="14.6" textLength="3.82" lengthAdjust="spacingAndGlyphs">(</text>
<text x="580.41" y="340.70" font-size="11.2" textLength="5.44" lengthAdjust="spacingAndGlyphs" style="font-style:italic">o</text>
<text x="589.28" y="345.00" font-size="14.6" textLength="3.43" lengthAdjust="spacingAndGlyphs">)</text>
<text x="0.97" y="0.00" font-size="14.6" textLength="4.29" lengthAdjust="spacingAndGlyphs" style="font-style:italic;stroke-width:0.45px" transform="translate(12.3,180) rotate(-90)">f</text>
<text x="4.40" y="0.00" font-size="14.6" textLength="4.27" lengthAdjust="spacingAndGlyphs" style="stroke-width:0.45px" transform="translate(12.3,180) rotate(-90)">/</text>
<text x="10.11" y="0.00" font-size="14.6" textLength="4.79" lengthAdjust="spacingAndGlyphs" style="font-style:italic;stroke-width:0.45px" transform="translate(12.3,180) rotate(-90)">f</text>
<text x="16.07" y="0.00" font-size="10.6" textLength="18.75" lengthAdjust="spacingAndGlyphs" style="stroke-width:0.45px" transform="translate(14.5,180) rotate(-90)">min</text>
<text x="0.97" y="0.00" font-size="14.6" textLength="4.29" lengthAdjust="spacingAndGlyphs" style="font-style:italic;stroke-width:0.45px" transform="translate(355.6,180) rotate(-90)">f</text>
<text x="4.40" y="0.00" font-size="14.6" textLength="4.27" lengthAdjust="spacingAndGlyphs" style="stroke-width:0.45px" transform="translate(355.6,180) rotate(-90)">/</text>
<text x="10.11" y="0.00" font-size="14.6" textLength="4.79" lengthAdjust="spacingAndGlyphs" style="font-style:italic;stroke-width:0.45px" transform="translate(355.6,180) rotate(-90)">f</text>
<text x="16.07" y="0.00" font-size="10.6" textLength="18.75" lengthAdjust="spacingAndGlyphs" style="stroke-width:0.45px" transform="translate(357.8,180) rotate(-90)">min</text>
</svg>
</body></html>
